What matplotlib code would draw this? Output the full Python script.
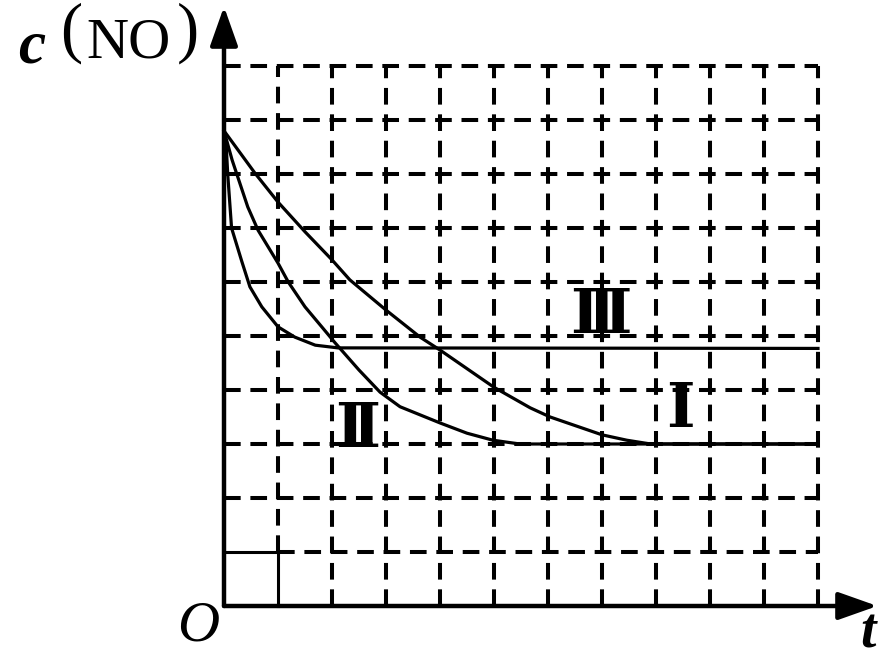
import matplotlib
matplotlib.use('Agg')
import matplotlib.pyplot as plt

# curve data (t and c in grid units)
t_I = [0, 0.57, 1.0, 1.5, 2.0, 2.33, 3.0, 3.63, 4.0, 5.0, 5.67, 6.04, 7.0, 7.46, 7.9, 11]
c_I = [8.8, 8.02, 7.48, 6.93, 6.41, 6.04, 5.48, 4.98, 4.74, 4.05, 3.67, 3.5, 3.17, 3.07, 3.0, 3.0]

t_II = [0, 0.15, 0.44, 0.63, 1.0, 1.19, 1.5, 1.81, 2.06, 2.5, 2.89, 3.26, 4.0, 4.5, 4.98, 5.48, 11]
c_II = [8.8, 8.26, 7.39, 6.96, 6.35, 6.0, 5.54, 5.17, 4.87, 4.37, 3.96, 3.69, 3.39, 3.2, 3.07, 3.0, 3.0]

t_III = [0, 0.04, 0.07, 0.14, 0.33, 0.48, 0.70, 1.0, 1.31, 1.69, 2.11, 11]
c_III = [8.8, 8.54, 7.98, 7.0, 6.38, 5.91, 5.54, 5.17, 4.98, 4.83, 4.78, 4.77]

labels = ['Ⅰ', 'Ⅱ', 'Ⅲ']
label_pos = [(8.46, 3.63), (2.48, 3.26), (6.98, 5.37)]

n_cols = 11
n_rows = 10

plt.rcParams['lines.scale_dashes'] = False
fig = plt.figure(figsize=(8.9, 6.58), dpi=100)
ax = fig.add_axes([0, 0, 1, 1])
ax.set_xlim(-224 / 54, (890 - 224) / 54)
ax.set_ylim(-(658 - 606) / 54, 606 / 54)
ax.axis('off')

dash = (0, (12, 7))
grid_lw = 2.9
# dashed grid
for i in range(1, n_rows + 1):
    x0 = 1 if i == 1 else 0
    ax.plot([x0, n_cols], [i, i], color='black', lw=grid_lw, linestyle=dash,
            dash_capstyle='butt')
for j in range(1, n_cols + 1):
    y0 = 1 if j == 1 else 0
    ax.plot([j, j], [y0, n_rows], color='black', lw=grid_lw, linestyle=dash,
            dash_capstyle='butt')
# solid first cell
ax.plot([0, 1], [1, 1], color='black', lw=2.2)
ax.plot([1, 1], [0, 1], color='black', lw=2.2)

# axes with arrows
arrow = dict(arrowstyle='-|>,head_length=2.4,head_width=0.85', color='black',
             lw=3.2, shrinkA=0, shrinkB=0, mutation_scale=10)
ax.annotate('', xy=(12.1, 0), xytext=(0, 0), arrowprops=arrow)
ax.annotate('', xy=(0, 11.1), xytext=(0, 0), arrowprops=arrow)

# curves
for t, c in [(t_I, c_I), (t_II, c_II), (t_III, c_III)]:
    ax.plot(t, c, color='black', lw=2.3, solid_joinstyle='round')

for lab, (x, y) in zip(labels, label_pos):
    ax.text(x, y, lab, ha='center', va='center', fontsize=44, fontweight='bold',
            family=['DejaVu Serif', 'DejaVu Sans'])

serif = 'Liberation Serif'
ax.text(-3.57, 10.35, 'c', ha='center', va='center', fontsize=44,
        fontweight='bold', fontstyle='italic', family=serif)
ax.text(-2.83, 10.6, '(', ha='center', va='center', fontsize=48, family=serif)
ax.text(-1.76, 10.42, 'NO', ha='center', va='center', fontsize=42, family=serif)
ax.text(-0.67, 10.6, ')', ha='center', va='center', fontsize=48, family=serif)
ax.text(-0.48, -0.38, 'O', ha='center', va='center', fontsize=42,
        fontstyle='italic', family=serif)
ax.text(11.93, -0.5, 't', ha='center', va='center', fontsize=40,
        fontweight='bold', fontstyle='italic', family=serif)

fig.savefig('out.png', dpi=100)
